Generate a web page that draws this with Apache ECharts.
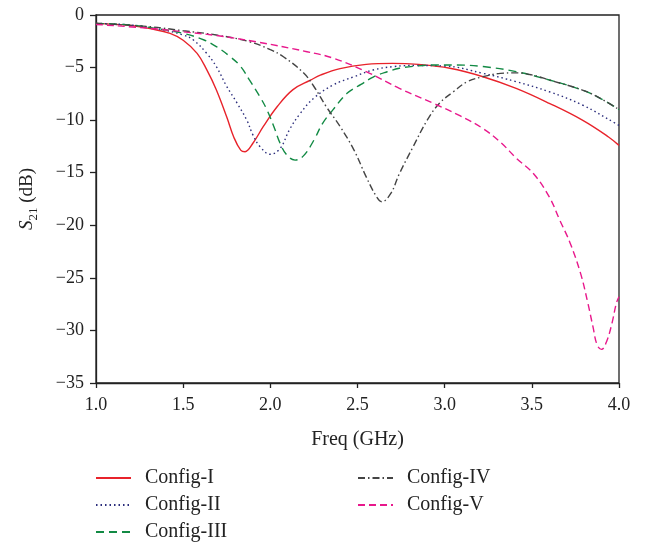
<!DOCTYPE html>
<html>
<head>
<meta charset="utf-8">
<script src="https://cdn.jsdelivr.net/npm/echarts@6/dist/echarts.min.js"></script>
<style>html,body{margin:0;padding:0;background:#fff;}#c{width:653px;height:544px;}</style>
</head>
<body>
<div id="c"></div>
<script>
// ---- data ----
const seriesNames = ['Config-I', 'Config-II', 'Config-III', 'Config-IV', 'Config-V'];

const freqI = [1.0, 1.2, 1.31, 1.425, 1.5, 1.58, 1.635, 1.69, 1.75, 1.79, 1.83, 1.855, 1.9, 1.96, 2.04, 2.13, 2.23, 2.29, 2.4, 2.55, 2.7, 2.85, 3.03, 3.22, 3.41, 3.6, 3.79, 3.94, 4.0];
const s21I  = [-0.8, -1.0, -1.3, -1.74, -2.4, -3.65, -5.2, -7.1, -9.7, -11.6, -12.85, -13.0, -12.2, -10.6, -8.7, -7.1, -6.2, -5.7, -5.1, -4.7, -4.6, -4.7, -5.07, -5.87, -6.98, -8.4, -10.0, -11.6, -12.4];

const freqII = [1.0, 1.2, 1.35, 1.5, 1.56, 1.635, 1.69, 1.75, 1.81, 1.865, 1.9, 1.94, 2.0, 2.056, 2.11, 2.17, 2.25, 2.36, 2.48, 2.59, 2.71, 2.84, 3.0, 3.22, 3.41, 3.6, 3.79, 3.98, 4.0];
const s21II  = [-0.8, -0.95, -1.3, -1.9, -2.4, -3.65, -4.9, -6.8, -8.4, -10.0, -11.4, -12.5, -13.25, -12.7, -10.9, -9.4, -7.9, -6.66, -5.87, -5.23, -4.9, -4.8, -4.85, -5.55, -6.34, -7.3, -8.56, -10.3, -10.5];

const freqIII = [1.0, 1.2, 1.35, 1.5, 1.62, 1.69, 1.77, 1.83, 1.88, 1.94, 1.98, 2.02, 2.056, 2.094, 2.142, 2.19, 2.25, 2.3, 2.36, 2.44, 2.52, 2.59, 2.67, 2.74, 2.84, 2.93, 3.07, 3.22, 3.41, 3.6, 3.79, 3.89, 4.0];
const s21III  = [-0.8, -0.95, -1.3, -1.74, -2.38, -3.0, -3.97, -4.9, -6.18, -7.77, -9.0, -10.6, -12.2, -13.3, -13.8, -13.4, -11.9, -10.3, -9.0, -7.45, -6.6, -5.9, -5.4, -5.07, -4.85, -4.76, -4.76, -4.9, -5.39, -6.18, -7.14, -7.9, -9.0];

const freqIV = [1.0, 1.3, 1.5, 1.69, 1.88, 2.0, 2.075, 2.19, 2.25, 2.32, 2.4, 2.48, 2.55, 2.61, 2.64, 2.69, 2.74, 2.82, 2.9, 2.97, 3.05, 3.13, 3.22, 3.32, 3.41, 3.5, 3.6, 3.79, 3.89, 4.0];
const s21IV  = [-0.8, -1.1, -1.5, -1.9, -2.54, -3.3, -3.97, -5.5, -6.8, -8.7, -10.6, -12.85, -15.4, -17.3, -17.76, -17.0, -15.1, -12.5, -10.0, -8.4, -7.3, -6.34, -5.87, -5.55, -5.5, -5.7, -6.18, -7.14, -7.9, -9.0];

const freqV = [1.0, 1.31, 1.5, 1.69, 1.92, 2.21, 2.36, 2.55, 2.74, 2.935, 3.09, 3.22, 3.32, 3.41, 3.51, 3.6, 3.66, 3.72, 3.78, 3.82, 3.85, 3.875, 3.9, 3.93, 3.96, 3.985, 4.0];
const s21V  = [-0.9, -1.27, -1.6, -1.95, -2.55, -3.49, -4.1, -5.39, -6.98, -8.4, -9.6, -10.8, -12.1, -13.6, -15.1, -17.3, -19.5, -21.7, -24.6, -27.3, -29.6, -31.4, -31.8, -31.0, -29.3, -27.4, -26.8];

const xTickLabels = ['1.0', '1.5', '2.0', '2.5', '3.0', '3.5', '4.0'];
const yTickLabels = ['0', '−5', '−10', '−15', '−20', '−25', '−30', '−35'];

// ---- chart ----
const FONT = 'Liberation Serif';
function pairs(xs, ys) { return xs.map((x, i) => [x, ys[i]]); }

const styles = [
  { color: '#e8232b', type: 'solid' },
  { color: '#2b2d7c', type: [1.5, 3] },
  { color: '#128a44', type: [8, 5] },
  { color: '#444444', type: [7, 3, 1.5, 3] },
  { color: '#e8188c', type: [7, 4] }
];
const allData = [pairs(freqI, s21I), pairs(freqII, s21II), pairs(freqIII, s21III), pairs(freqIV, s21IV), pairs(freqV, s21V)];

const legendCommon = {
  orient: 'vertical', top: 468, itemWidth: 35, itemHeight: 14, itemGap: 7, padding: 0,
  itemStyle: { opacity: 0, borderWidth: 0 },
  textStyle: { fontFamily: FONT, fontSize: 20, color: '#222', lineHeight: 20, padding: [0, 0, 0, 9] }
};

const chart = echarts.init(document.getElementById('c'), null, { renderer: 'canvas' });
chart.setOption({
  animation: false,
  backgroundColor: '#fff',
  textStyle: { fontFamily: FONT },
  grid: { left: 96, right: 34, top: 15, bottom: 161, show: true, borderColor: '#222', borderWidth: 1.3, backgroundColor: 'transparent' },
  xAxis: {
    type: 'value', min: 1, max: 4, interval: 0.5,
    name: 'Freq (GHz)', nameLocation: 'middle', nameGap: 47,
    nameTextStyle: { fontFamily: FONT, fontSize: 20, color: '#222' },
    axisLine: { show: true, onZero: false, lineStyle: { color: '#222', width: 1.3 } },
    axisTick: { show: true, inside: false, length: 5, lineStyle: { color: '#222', width: 1.3 } },
    axisLabel: { fontFamily: FONT, fontSize: 18, color: '#222', margin: 13,
      formatter: v => xTickLabels[Math.round((v - 1) / 0.5)] },
    splitLine: { show: false }
  },
  yAxis: {
    type: 'value', min: -35, max: 0, interval: 5,
    name: '{i|S}{s|21}{n| (dB)}', nameLocation: 'middle', nameGap: 56,
    nameTextStyle: { fontFamily: FONT, fontSize: 19, color: '#222',
      rich: {
        i: { fontFamily: FONT, fontSize: 19, fontStyle: 'italic', color: '#222', lineHeight: 26, verticalAlign: 'middle' },
        s: { fontFamily: FONT, fontSize: 13, color: '#222', lineHeight: 26, verticalAlign: 'bottom' },
        n: { fontFamily: FONT, fontSize: 19, color: '#222', lineHeight: 26, verticalAlign: 'middle' }
      } },
    axisLine: { show: true, onZero: false, lineStyle: { color: '#222', width: 1.3 } },
    axisTick: { show: true, inside: false, length: 6, lineStyle: { color: '#222', width: 1.3 } },
    axisLabel: { fontFamily: FONT, fontSize: 18, color: '#222', margin: 12,
      formatter: v => yTickLabels[Math.round(-v / 5)] },
    splitLine: { show: false }
  },
  legend: [
    Object.assign({}, legendCommon, { left: 95, data: seriesNames.slice(0, 3) }),
    Object.assign({}, legendCommon, { left: 357, data: seriesNames.slice(3, 5) })
  ],
  series: seriesNames.map((n, i) => ({
    name: n, type: 'line', data: allData[i], showSymbol: false, symbol: 'none',
    smooth: 0.4, clip: true,
    color: styles[i].color,
    lineStyle: { color: styles[i].color, width: 1.4, type: styles[i].type }
  }))
});
</script>
</body>
</html>
